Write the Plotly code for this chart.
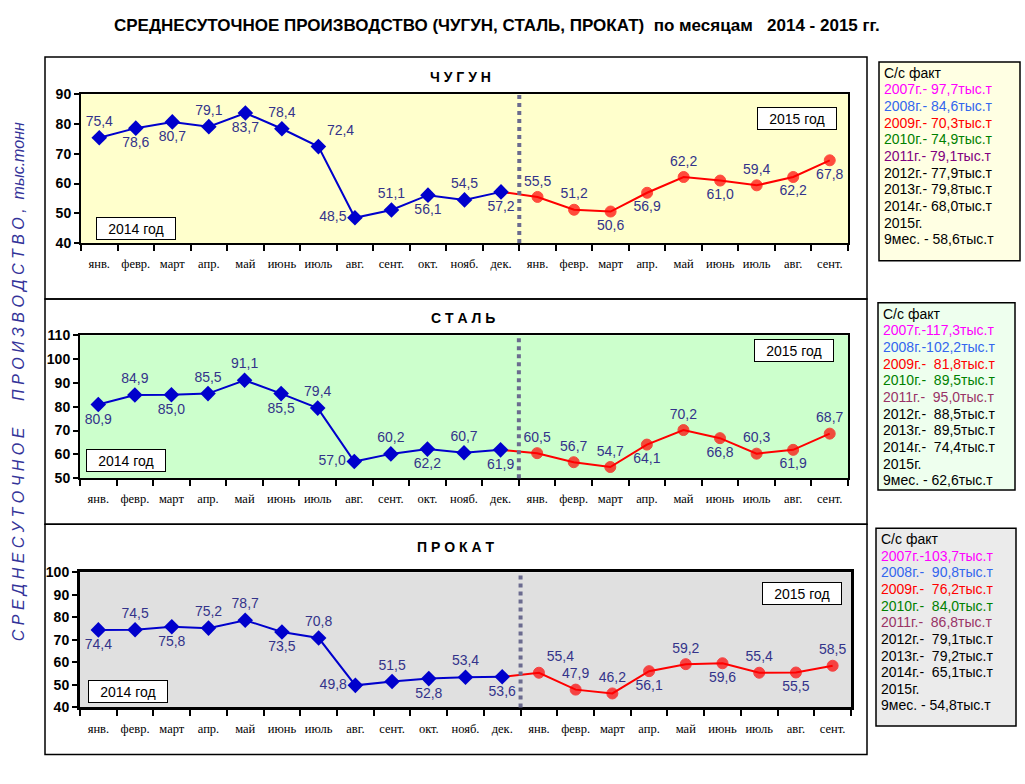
import plotly.graph_objects as go

# --- data ---
months_2014 = ["янв.", "февр.", "март", "апр.", "май", "июнь", "июль", "авг.", "сент.", "окт.", "нояб.", "дек."]
months_2015 = ["янв.", "февр.", "март", "апр.", "май", "июнь", "июль", "авг.", "сент."]

chugun_2014 = [75.4, 78.6, 80.7, 79.1, 83.7, 78.4, 72.4, 48.5, 51.1, 56.1, 54.5, 57.2]
chugun_2015 = [55.5, 51.2, 50.6, 56.9, 62.2, 61.0, 59.4, 62.2, 67.8]
stal_2014 = [80.9, 84.9, 85.0, 85.5, 91.1, 85.5, 79.4, 57.0, 60.2, 62.2, 60.7, 61.9]
stal_2015 = [60.5, 56.7, 54.7, 64.1, 70.2, 66.8, 60.3, 61.9, 68.7]
prokat_2014 = [74.4, 74.5, 75.8, 75.2, 78.7, 73.5, 70.8, 49.8, 51.5, 52.8, 53.4, 53.6]
prokat_2015 = [55.4, 47.9, 46.2, 56.1, 59.2, 59.6, 55.4, 55.5, 58.5]

legend_years = ["2007г.", "2008г.", "2009г.", "2010г.", "2011г.", "2012г.", "2013г.", "2014г."]
chugun_fact = ["97,7", "84,6", "70,3", "74,9", "79,1", "77,9", "79,8", "68,0"]
stal_fact = ["117,3", "102,2", "81,8", "89,5", "95,0", "88,5", "89,5", "74,4"]
prokat_fact = ["103,7", "90,8", "76,2", "84,0", "86,8", "79,1", "79,2", "65,1"]
chugun_9m = "58,6"
stal_9m = "62,6"
prokat_9m = "54,8"

# label positions (above / below) as they sit in the picture
T, B, L, TR = "top center", "bottom center", "middle left", "top right"
chugun_pos = [T, B, B, T, B, T, TR, L, T, B, T, B] + [T, T, B, B, T, B, T, B, B]
stal_pos = [B, T, B, T, T, B, T, L, T, B, T, B] + [T, T, T, B, T, B, T, B, T]
prokat_pos = [B, T, B, T, T, B, T, L, T, B, T, B] + [TR, T, T, B, T, B, T, B, T]

W, H = 1025, 784
LABEL_C = "#33338A"
BLUE = "#0000CC"
RED = "#FF0000"
LEG_FONT = 14
LEG_STEP = 17


def px_x(x):
    return x / W


def px_y(y):
    return 1 - y / H


def fmt(v):
    return f"{v:.1f}".replace(".", ",")


def note(x, y, text, **kw):
    d = dict(xref="paper", yref="paper", x=px_x(x), y=px_y(y), text=text, showarrow=False,
             xanchor="center", yanchor="middle")
    d.update(kw)
    return d


panels = [
    dict(name="Ч У Г У Н", v14=chugun_2014, v15=chugun_2015, pos=chugun_pos, yr=[40, 90],
         dom_x=(81, 848), dom_y=(88, 240), box=(45, 50, 867, 297), title_xy=(460, 70),
         bg="#FFFFCC", leg_bg="#FFFFE3", leg=(879, 55, 1020, 258), fact=chugun_fact, m9=chugun_9m,
         c2011="#800080", b14=(136, 225), b15=(797, 113), lw=2, wide=False),
    dict(name="С Т А Л Ь", v14=stal_2014, v15=stal_2015, pos=stal_pos, yr=[50, 110],
         dom_x=(80, 848), dom_y=(334, 480), box=(45, 297, 867, 527), title_xy=(463, 316),
         bg="#CCFFCC", leg_bg="#EEFFEE", leg=(878, 301, 1015, 492), fact=stal_fact, m9=stal_9m,
         c2011="#993366", b14=(126, 462), b15=(794, 350), lw=2, wide=True),
    dict(name="П Р О К А Т", v14=prokat_2014, v15=prokat_2015, pos=prokat_pos, yr=[40, 100],
         dom_x=(80, 851), dom_y=(576, 714), box=(45, 527, 867, 762), title_xy=(455, 550),
         bg="#E0E0E0", leg_bg="#EBEBEB", leg=(876, 531, 1016, 733), fact=prokat_fact, m9=prokat_9m,
         c2011="#993366", b14=(128, 698), b15=(802, 598), lw=3, wide=True),
]

year_colors = ["#FF00FF", "#3366EE", "#FF0000", "#008000", None, "black", "black", "black"]

months_all = months_2014 + months_2015
x14 = list(range(len(months_2014)))
x15 = list(range(len(months_2014), len(months_all)))

fig = go.Figure()
shapes = []
annotations = []

for i, p in enumerate(panels, start=1):
    xa = "x" if i == 1 else f"x{i}"
    ya = "y" if i == 1 else f"y{i}"

    # red 2015 line, starting from the Dec 2014 point
    red_y = [p["v14"][-1]] + p["v15"]
    fig.add_trace(go.Scatter(
        x=[x14[-1]] + x15, y=red_y, xaxis=xa, yaxis=ya, mode="lines+markers+text",
        line=dict(color=RED, width=2),
        marker=dict(symbol="circle", size=[0] + [11] * len(p["v15"]), color=RED,
                    line=dict(color=RED, width=1)),
        text=[""] + [fmt(v) for v in p["v15"]],
        textposition=[B] + p["pos"][12:],
        textfont=dict(family="Liberation Sans, Arial", size=14, color=LABEL_C),
        showlegend=False, cliponaxis=False))
    fig.add_trace(go.Scatter(
        x=x14, y=p["v14"], xaxis=xa, yaxis=ya, mode="lines+markers+text",
        line=dict(color=BLUE, width=2),
        marker=dict(symbol="diamond", size=12, color=BLUE),
        text=[fmt(v) for v in p["v14"]], textposition=p["pos"][:12],
        textfont=dict(family="Liberation Sans, Arial", size=14, color=LABEL_C),
        showlegend=False, cliponaxis=False))

    x0, x1 = p["dom_x"]
    y0, y1 = p["dom_y"]
    fig.update_layout({
        ("xaxis" if i == 1 else f"xaxis{i}"): dict(
            domain=[px_x(x0), px_x(x1)], anchor=ya, range=[-0.5, len(months_all) - 0.5],
            tickmode="array", tickvals=list(range(len(months_all))), ticktext=months_all,
            ticks="outside", ticklen=8, tickcolor="rgba(0,0,0,0)",
            minor=dict(tickmode="array", tickvals=[k - 0.5 for k in range(len(months_all) + 1)],
                       ticks="outside", ticklen=6, tickwidth=2, tickcolor="black"),
            tickfont=dict(family="Liberation Serif, Times New Roman", size=12.5, color="black"),
            showline=True, linecolor="black", linewidth=p["lw"], mirror=True,
            showgrid=False, zeroline=False, fixedrange=True),
        ("yaxis" if i == 1 else f"yaxis{i}"): dict(
            domain=[px_y(y1), px_y(y0)], anchor=xa, range=p["yr"], dtick=10,
            ticks="outside", ticklen=5, tickwidth=2, tickcolor="black",
            tickfont=dict(family="Liberation Sans, Arial", size=14, color="black", weight="bold"),
            showline=True, linecolor="black", linewidth=p["lw"], mirror=True,
            showgrid=False, zeroline=False, fixedrange=True),
    })

    # plot area background
    shapes.append(dict(type="rect", xref=f"{xa} domain", yref=f"{ya} domain", x0=0, x1=1, y0=0, y1=1,
                       fillcolor=p["bg"], line=dict(width=0), layer="below"))
    # dotted divider between 2014 and 2015
    shapes.append(dict(type="line", xref=xa, yref=f"{ya} domain", x0=11.5, x1=11.5, y0=0, y1=1,
                       line=dict(color="#6B6B8F", width=4, dash="dot")))
    # outer frame of the panel
    bx0, by0, bx1, by1 = p["box"]
    shapes.append(dict(type="rect", xref="paper", yref="paper", x0=px_x(bx0), x1=px_x(bx1),
                       y0=px_y(by1), y1=px_y(by0), line=dict(color="black", width=1.5)))
    # legend box
    lx0, ly0, lx1, ly1 = p["leg"]
    shapes.append(dict(type="rect", xref="paper", yref="paper", x0=px_x(lx0), x1=px_x(lx1),
                       y0=px_y(ly1), y1=px_y(ly0), fillcolor=p["leg_bg"],
                       line=dict(color="black", width=1.5), layer="below"))

    lines = [("С/с факт", "black")]
    for yr, val, col in zip(legend_years, p["fact"], year_colors):
        if p["wide"]:
            sep = "-" if len(val) > 4 else "-  "
        else:
            sep = "- "
        lines.append((f"{yr}{sep}{val}тыс.т", col or p["c2011"]))
    lines += [("2015г.", "black"), (f"9мес. - {p['m9']}тыс.т", "black")]
    for k, (txt, col) in enumerate(lines):
        annotations.append(note(lx0 + 3, ly0 + 11 + k * LEG_STEP, txt, xanchor="left",
                                font=dict(family="Liberation Sans, Arial", size=LEG_FONT, color=col)))

    # panel title
    tx, ty = p["title_xy"]
    annotations.append(note(tx, ty, p["name"],
                            font=dict(family="Liberation Sans, Arial", size=14, color="black", weight="bold")))
    # year boxes
    for (cx, cy), label in [(p["b14"], "2014 год"), (p["b15"], "2015 год")]:
        annotations.append(note(cx, cy, label, bgcolor="white", bordercolor="black", borderwidth=1,
                                borderpad=2, width=74, height=17,
                                font=dict(family="Liberation Sans, Arial", size=14, color="black")))

# main title
annotations.append(note(497, 18, "СРЕДНЕСУТОЧНОЕ ПРОИЗВОДСТВО (ЧУГУН, СТАЛЬ, ПРОКАТ)  по месяцам   2014 - 2015 гг.",
                        font=dict(family="Liberation Sans Narrow, Arial Narrow, Liberation Sans", size=17,
                                  color="black", weight="bold")))
# vertical axis title
ytitle = " ".join("СРЕДНЕСУТОЧНОЕ") + "      " + " ".join("ПРОИЗВОДСТВО,") + "  тыс.тонн"
annotations.append(note(18, 382, f"<i>{ytitle}</i>", textangle=-90,
                        font=dict(family="Liberation Sans, Arial", size=16, color="#333399")))

fig.update_layout(width=W, height=H, margin=dict(l=0, r=0, t=0, b=0),
                  paper_bgcolor="white", plot_bgcolor="rgba(0,0,0,0)",
                  shapes=shapes, annotations=annotations, showlegend=False)

# drop the default page margin so the figure sits flush in the window
fig.write_html("out.html", config={"displayModeBar": False},
               post_script="document.body.style.margin='0';"
                           "document.documentElement.style.overflow='hidden';")
